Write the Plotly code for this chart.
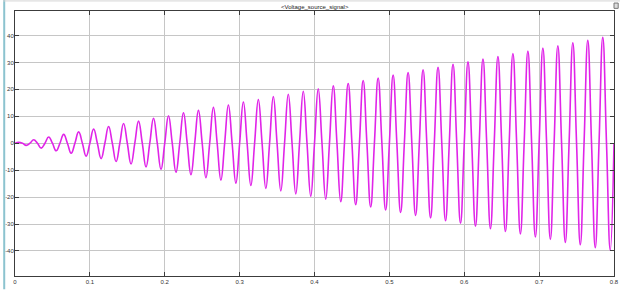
import plotly.graph_objects as go

# Signal extrema (50 Hz, growing amplitude)
peak_times = [0.005, 0.025, 0.045, 0.065, 0.085, 0.105, 0.125, 0.145, 0.165, 0.185,
              0.205, 0.225, 0.245, 0.265, 0.285, 0.305, 0.325, 0.345, 0.365, 0.385,
              0.405, 0.425, 0.445, 0.465, 0.485, 0.505, 0.525, 0.545, 0.565, 0.585,
              0.605, 0.625, 0.645, 0.665, 0.685, 0.705, 0.725, 0.745, 0.765, 0.785]
peak_values = [0.3, 1.3, 2.3, 3.3, 4.2, 5.3, 6.2, 7.3, 8.2, 9.3,
               10.2, 11.3, 12.2, 13.3, 14.2, 15.3, 16.2, 17.3, 18.2, 19.3,
               20.2, 21.3, 22.2, 23.3, 24.2, 25.3, 26.2, 27.3, 28.2, 29.3,
               30.2, 31.3, 32.2, 33.3, 34.2, 35.3, 36.2, 37.3, 38.2, 39.3]
trough_times = [0.015, 0.035, 0.055, 0.075, 0.095, 0.115, 0.135, 0.155, 0.175, 0.195,
                0.215, 0.235, 0.255, 0.275, 0.295, 0.315, 0.335, 0.355, 0.375, 0.395,
                0.415, 0.435, 0.455, 0.475, 0.495, 0.515, 0.535, 0.555, 0.575, 0.595,
                0.615, 0.635, 0.655, 0.675, 0.695, 0.715, 0.735, 0.755, 0.775, 0.795]
trough_values = [-0.8, -1.8, -2.8, -3.7, -4.8, -5.7, -6.8, -7.7, -8.8, -9.7,
                 -10.8, -11.7, -12.8, -13.7, -14.8, -15.7, -16.8, -17.7, -18.8, -19.7,
                 -20.8, -21.7, -22.8, -23.7, -24.8, -25.7, -26.8, -27.7, -28.8, -29.7,
                 -30.8, -31.7, -32.8, -33.7, -34.8, -35.7, -36.8, -37.7, -38.8, -39.7]
zero_times = [0.00, 0.01, 0.02, 0.03, 0.04, 0.05, 0.06, 0.07, 0.08, 0.09,
              0.10, 0.11, 0.12, 0.13, 0.14, 0.15, 0.16, 0.17, 0.18, 0.19,
              0.20, 0.21, 0.22, 0.23, 0.24, 0.25, 0.26, 0.27, 0.28, 0.29,
              0.30, 0.31, 0.32, 0.33, 0.34, 0.35, 0.36, 0.37, 0.38, 0.39,
              0.40, 0.41, 0.42, 0.43, 0.44, 0.45, 0.46, 0.47, 0.48, 0.49,
              0.50, 0.51, 0.52, 0.53, 0.54, 0.55, 0.56, 0.57, 0.58, 0.59,
              0.60, 0.61, 0.62, 0.63, 0.64, 0.65, 0.66, 0.67, 0.68, 0.69,
              0.70, 0.71, 0.72, 0.73, 0.74, 0.75, 0.76, 0.77, 0.78, 0.79, 0.80]
zero_values = [0.0] * len(zero_times)

x_tick_vals = [0, 0.1, 0.2, 0.3, 0.4, 0.5, 0.6, 0.7, 0.8]
x_tick_text = ["0", "0.1", "0.2", "0.3", "0.4", "0.5", "0.6", "0.7", "0.8"]
y_tick_vals = [-40, -30, -20, -10, 0, 10, 20, 30, 40]
y_tick_text = ["-40", "-30", "-20", "-10", "0", "10", "20", "30", "40"]
title_text = "<Voltage_source_signal>"

pts = sorted(list(zip(peak_times, peak_values)) + list(zip(trough_times, trough_values))
             + list(zip(zero_times, zero_values)))
t = [p[0] for p in pts]
v = [p[1] for p in pts]

fig = go.Figure()
fig.add_trace(go.Scatter(x=t, y=v, mode="lines",
                         line=dict(color="#e024e8", width=1.6, shape="spline", smoothing=1.3),
                         hoverinfo="skip"))

font = dict(family="Liberation Sans, Arial, sans-serif", size=6, color="#333333")
axis_common = dict(showgrid=True, gridcolor="#c6c6c6", gridwidth=1, zeroline=False,
                   showline=True, linecolor="#3c3c3c", linewidth=1, mirror="ticks",
                   ticks="inside", ticklen=4, tickcolor="#3c3c3c", tickfont=font)

fig.update_layout(
    width=624, height=290,
    margin=dict(l=11, r=5, t=11, b=12),
    paper_bgcolor="white", plot_bgcolor="white",
    showlegend=False,
    xaxis=dict(range=[0, 0.8], tickvals=x_tick_vals, ticktext=x_tick_text, **axis_common),
    yaxis=dict(range=[-49.3, 49.1], tickvals=y_tick_vals, ticktext=y_tick_text,
               ticklabelstandoff=-1, **axis_common),
    annotations=[dict(text=title_text, x=0.5, y=1.0, xref="paper", yref="paper",
                      xanchor="center", yanchor="middle", yshift=4, showarrow=False,
                      font=dict(family="Liberation Sans, Arial, sans-serif", size=6,
                                color="#222222"))],
    shapes=[
        dict(type="line", xref="paper", yref="paper", x0=-0.018, x1=-0.018, y0=-0.05, y1=1.05,
             line=dict(color="#8cc3cf", width=2)),
        dict(type="line", xref="paper", yref="paper", x0=-0.02, x1=1.01, y0=1.038, y1=1.038,
             line=dict(color="#d4d4d4", width=1)),
        dict(type="rect", xref="paper", yref="paper", x0=1.0, x1=1.007, y0=1.01, y1=1.03,
             line=dict(color="#777777", width=1), fillcolor="#dddddd"),
    ],
)

fig.write_html("out.html")
